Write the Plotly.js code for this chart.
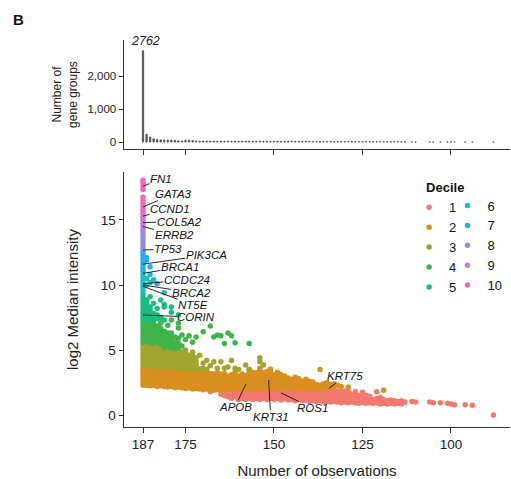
<!DOCTYPE html>
<html><head><meta charset="utf-8">
<script src="https://cdn.plot.ly/plotly-3.0.1.min.js"></script>
<style>html,body{margin:0;padding:0;background:#fff}#chart{width:511px;height:479px}</style>
</head><body><div id="chart"></div>
<script>
// ---------- data ----------
const decileNames = ['1','2','3','4','5','6','7','8','9','10'];
const decileColors = ['#F3786E','#D88F1E','#A2A42E','#40B44A','#1CBB82','#1DBDC3','#2AACE6','#9690DA','#CC78D2','#F068B6'];

// Top panel: number of gene groups per number of observations
const countX = [187,186,185,184,183,182,181,180,179,178,177,176,175,174,173,172,171,170,169,168,167,166,165,164,163,162,161,160,159,158,157,156,155,154,153,152,151,150,149,148,147,146,145,144,143,142,141,140,139,138,137,136,135,134,133,132,131,130,129,128,127,126,125,124,123,122,121,120,119,118,117,116,115,114,113,111,110,106,105,103,101,100,99,96,94,88];
const countY = [2762,230,150,100,80,65,60,55,52,48,35,32,50,52,48,30,28,30,28,27,29,26,28,25,27,24,26,25,23,25,24,22,24,23,22,24,21,23,22,20,22,21,19,21,20,18,20,19,17,18,17,16,17,15,16,14,15,14,13,14,12,13,12,11,12,10,11,10,9,10,8,9,8,7,6,3,2,2,1,1,2,1,1,1,1,1];

// Bottom panel: log2 median intensity, columns of points per number of observations, by decile
const d1_x = [168,165,164,163,162,161,160,159,158,157,156,155,154,153,152,151,150,149,148,147,146,145,144,143,142,141,140,139,138,137,136,135,134,133,132,131,130,129,128,127,126,125,124,123,122,121,120,119,118,117,116,115,114,113,111,110,106,105,103,101,100,99,96,94,88];
const d1_y = [[1.8],[1.6],[1.5,1.8],[1.4,1.7],[1.3,1.6,1.9],[1.4,1.7],[1.2,1.5,1.8],[1.3,1.6,1.9],[1.2,1.5,1.8],[1.3,1.6,1.9],[1.2,1.5,1.8],[1.3,1.6,1.9],[1.2,1.5,1.8],[1.3,1.6,1.9],[1.2,1.5,1.8,2.0],[1.3,1.6,1.9],[1.2,1.5,1.8,2.1],[1.3,1.6,1.9],[1.15,1.45,1.7,2.0],[1.25,1.55,1.85,2.1],[1.15,1.45,1.75,2.0],[1.2,1.5,1.8,2.1],[1.1,1.4,1.7,2.0],[1.2,1.5,1.8,2.05],[1.1,1.4,1.7,2.0],[1.15,1.45,1.75,1.95],[1.05,1.35,1.65,1.95],[1.1,1.4,1.7,2.0],[1.05,1.35,1.65,1.9],[1.1,1.4,1.7,1.95],[1.0,1.3,1.6,1.9],[1.05,1.35,1.65,1.9],[1.0,1.3,1.6,1.85],[1.05,1.35,1.65,1.9],[1.0,1.3,1.6,1.85],[0.95,1.25,1.55,1.8],[1.0,1.3,1.6,1.85],[0.95,1.25,1.55,1.8],[1.0,1.3,1.6],[0.95,1.25,1.55,1.8],[0.9,1.2,1.5],[0.95,1.25,1.55,1.75],[0.9,1.2,1.5],[0.95,1.25,1.45],[0.9,1.2],[0.95,1.25,1.8],[0.85,1.15,1.35],[0.9,1.2],[0.85,1.1],[0.9,1.15],[0.85,1.1],[0.9,1.05],[0.85,1.1],[1.0],[1.05],[1.0],[1.0],[0.95],[0.95],[0.9],[0.85],[0.8],[0.8],[0.75],[0.0]];

const d2_x = [187,186,185,184,183,182,181,180,179,178,177,176,175,174,173,172,171,170,169,168,167,166,165,164,163,162,161,160,159,158,157,156,155,154,153,152,151,150,149,148,147,146,145,144,143,142,141,140,139,138,137,136,135,134,133,132,131,129,119];
const d2_y = [[2.3,2.55,2.8,3.05,3.3,3.55],[2.3,2.55,2.8,3.05,3.3,3.5],[2.25,2.5,2.75,3.0,3.25,3.5],[2.3,2.55,2.8,3.05,3.3,3.55],[2.2,2.45,2.7,2.95,3.2,3.45],[2.25,2.5,2.75,3.0,3.25,3.5],[2.2,2.45,2.7,2.95,3.2,3.45],[2.15,2.4,2.65,2.9,3.15,3.4],[2.2,2.45,2.7,2.95,3.2,3.45],[2.1,2.35,2.6,2.85,3.1,3.35],[2.15,2.4,2.65,2.9,3.15,3.4],[2.1,2.35,2.6,2.85,3.1,3.35],[2.05,2.3,2.55,2.8,3.05,3.3],[2.1,2.35,2.6,2.85,3.1,3.35],[2.0,2.25,2.5,2.75,3.0,3.25],[2.05,2.3,2.55,2.8,3.05,3.3],[2.0,2.25,2.5,2.75,3.0,3.25],[1.95,2.2,2.45,2.7,2.95,3.2],[2.0,2.25,2.5,2.75,3.0,3.25],[1.95,2.2,2.45,2.7,2.95,3.2],[1.9,2.15,2.4,2.65,2.9,3.15],[1.95,2.2,2.45,2.7,2.95,3.25],[1.9,2.15,2.4,2.65,2.9,3.15],[1.95,2.2,2.45,2.7,2.95,3.2],[2.0,2.25,2.5,2.75,3.0],[2.1,2.35,2.6,2.85,3.1],[2.05,2.3,2.55,2.8,3.05,3.3],[2.0,2.25,2.5,2.75,3.0],[2.15,2.4,2.65,2.9,3.15],[2.05,2.3,2.55,2.8,3.05],[2.0,2.25,2.5,2.75,3.0,3.25,3.5],[2.05,2.3,2.55,2.8,3.05,3.3],[2.0,2.25,2.5,2.75,3.0,3.25],[2.1,2.35,2.6,2.85,3.1,3.35,3.6],[2.0,2.25,2.5,2.75,3.0,3.25],[2.1,2.35,2.6,2.85,3.1,3.35],[2.05,2.3,2.55,2.8,3.05,3.3,3.55],[2.1,2.35,2.6,2.85,3.1],[2.0,2.25,2.5,2.75,3.0,3.3],[2.1,2.35,2.6,2.85,3.1],[2.05,2.3,2.55,2.8,3.0],[2.1,2.35,2.6,2.85],[2.0,2.25,2.5,2.75],[2.1,2.35,2.6,2.9],[2.05,2.3,2.55,2.8],[2.1,2.35,2.6],[2.0,2.25,2.5,2.75],[2.1,2.35,2.6],[2.05,2.3,2.55],[2.1,2.35],[2.0,2.3,3.5],[2.1,2.4],[2.2,2.5],[2.1,2.35],[2.2,2.4],[2.3],[2.2],[2.15],[1.9]];

const d3_x = [187,186,185,184,183,182,181,180,179,178,177,176,175,174,173,172,171,170,169,168,167,166,165,164,163,162,161,160,158,157,154,153];
const d3_y = [[3.8,4.05,4.3,4.55,4.8,5.05,5.3],[3.75,4.0,4.25,4.5,4.75,5.0,5.25,5.45],[3.8,4.05,4.3,4.55,4.8,5.05,5.3],[3.75,4.0,4.25,4.5,4.75,5.0,5.25],[3.7,3.95,4.2,4.45,4.7,4.95,5.2,5.4],[3.75,4.0,4.25,4.5,4.75,5.0,5.2],[3.7,3.95,4.2,4.45,4.7,4.95],[3.65,3.9,4.15,4.4,4.65,4.9,5.1],[3.7,3.95,4.2,4.45,4.7,4.95],[3.6,3.85,4.1,4.35,4.6,4.85,5.0],[3.65,3.9,4.15,4.4,4.65,4.9],[3.6,3.85,4.1,4.35,4.6,4.85],[3.55,3.8,4.05,4.3,4.55,4.8,5.0],[3.6,3.85,4.1,4.35,4.6],[3.55,3.8,4.05,4.3,4.55,4.85],[3.6,3.85,4.1,4.4],[3.55,4.6],[3.6,4.0],[3.5,4.2],[3.8],[4.1],[3.6],[4.1],[3.6],[3.7],[4.2],[3.6],[3.5],[3.85],[3.5],[4.1,4.4],[3.85]];

const d4_x = [187,186,185,184,183,182,181,180,179,178,177,176,175,174,173,172,170,168,167,166,165,164,163,162,161,157];
const d4_y = [[5.55,5.8,6.05,6.3,6.55,6.8,7.05],[5.7,5.95,6.2,6.45,6.7,6.95,7.15],[5.55,5.8,6.05,6.3,6.55,6.8,7.05],[5.5,5.75,6.0,6.25,6.5,6.75,7.0],[5.6,5.85,6.1,6.35,6.6,6.85],[5.45,5.7,5.95,6.2,6.45,6.7,7.1],[5.2,5.45,5.7,5.95,6.2,6.45],[5.3,5.55,5.8,6.05,6.3,6.9],[5.2,5.45,5.7,5.95,6.3,7.3],[5.1,5.35,5.6,6.0],[5.2,5.5,5.9,6.7,7.05],[5.3,6.15],[5.8],[6.1],[5.6],[6.0],[6.4],[6.85],[6.0],[6.15],[6.1],[5.5],[6.3],[6.1],[5.55],[5.5]];

const d5_x = [187,186,185,184,183,182,181,179,177];
const d5_y = [[7.3,7.55,7.8,8.05,8.3,8.55,8.8,9.05,9.3],[7.35,7.6,7.85,8.1,8.35,8.6,8.85],[7.3,7.55,7.8,8.05,8.3,9.1],[7.3,7.55,7.8,8.6],[7.4,7.7,8.2],[7.5,8.85],[7.3,8.3,8.5],[7.9,8.3],[7.7]];

const d6_x = [187,186,185,184,183,181];
const d6_y = [[9.55,9.8,10.05,10.3,10.55,10.8],[10.0,10.5],[10.2,10.8],[10.4],[10.1],[9.4]];

const d7_x = [187,186,185];
const d7_y = [[11.05,11.3,11.55,11.8,12.05,12.3,12.55],[11.9,12.1],[11.4]];

const d8_x = [187];
const d8_y = [[12.8,13.05,13.3,13.55,13.8,14.05,14.25]];

const d9_x = [187];
const d9_y = [[14.5,14.75,15.0,15.25,15.5]];

const d10_x = [187];
const d10_y = [[15.75,16.0,16.25,16.5,16.75,17.35,17.6,17.85,18.05]];

// Labelled genes
const geneNames = ['FN1','GATA3','CCND1','COL5A2','ERRB2','TP53','PIK3CA','BRCA1','CCDC24','BRCA2','NT5E','CORIN','KRT75','APOB','KRT31','ROS1'];
const geneX = [187,187,187,187,187,187,187,187,187,187,187,187,134.5,157.9,151.5,148];
const geneY = [17.6,16.0,15.3,14.8,14.5,12.7,11.6,10.9,10.1,10.0,9.9,7.7,2.05,2.4,2.7,1.7];

const xTicks = [187,175,150,125,100];
const yTicks = [0,5,10,15];
const countTicks = [0,1000,2000];

// ---------- layout-only offsets for labels (pixels) ----------
const labelOffsets = [[18,-7],[30,-13],[27,-7],[36,-1],[31,8.5],[25,-0.5],[63,-9],[37,-6],[44,-3.7],[48,7.5],[50,18.7],[53,2.3],[16,-12],[-11,23],[2,37],[31,15]];

const columns = [[d1_x,d1_y],[d2_x,d2_y],[d3_x,d3_y],[d4_x,d4_y],[d5_x,d5_y],[d6_x,d6_y],[d7_x,d7_y],[d8_x,d8_y],[d9_x,d9_y],[d10_x,d10_y]];

const FONT = 'Liberation Sans, Arial, Helvetica, sans-serif';
const AX = '#333333';

const traces = [];
traces.push({
  type:'bar', x:countX, y:countY, xaxis:'x2', yaxis:'y2', width:0.35,
  marker:{color:'#555555', line:{color:'#555555', width:1}},
  showlegend:false, hoverinfo:'x+y'
});
columns.forEach(function(c, i){
  const xs = [], ys = [];
  c[0].forEach(function(xv, j){ c[1][j].forEach(function(yv){ xs.push(xv); ys.push(yv); }); });
  traces.push({
    type:'scatter', mode:'markers', x:xs, y:ys, xaxis:'x', yaxis:'y',
    name:decileNames[i], legend: i < 5 ? 'legend' : 'legend2', legendrank: i+1,
    marker:{color:decileColors[i], size:5.5, line:{width:0}},
    hoverinfo:'x+y+name'
  });
});

const annotations = [];
annotations.push({text:'<b>B</b>', xref:'paper', yref:'paper', x:-0.292, y:1.052, xanchor:'left', yanchor:'middle', showarrow:false, font:{family:FONT, size:15, color:'#111'}});
annotations.push({text:String(countY[0]), xref:'x2', yref:'y2', x:countX[0], y:countY[0], xanchor:'center', yanchor:'bottom', xshift:2, yshift:1, showarrow:false, font:{family:FONT, size:12.5, color:'#222', style:'italic'}});
geneNames.forEach(function(g, i){
  annotations.push({
    text:g, xref:'x', yref:'y', x:geneX[i], y:geneY[i], ax:labelOffsets[i][0], ay:labelOffsets[i][1],
    showarrow:true, arrowhead:0, arrowwidth:0.9, arrowcolor:'#111', standoff:0, borderpad:0,
    font:{family:FONT, size:11.5, color:'#111', style:'italic'}
  });
});

const tickCommon = {ticks:'outside', ticklen:4.5, tickwidth:1, tickcolor:AX, showline:true, linecolor:AX, linewidth:1, showgrid:false, zeroline:false};

const layout = {
  width:511, height:479,
  margin:{l:124, r:1, t:40, b:52},
  paper_bgcolor:'#fff', plot_bgcolor:'#fff',
  font:{family:FONT, color:'#222'},
  showlegend:true,
  xaxis: Object.assign({}, tickCommon, {domain:[0,1], anchor:'y', range:[192.37,83.33], tickvals:xTicks, tickfont:{size:13.5, color:'#222'},
    title:{text:'Number of observations', font:{size:15, color:'#222'}, standoff:14}}),
  yaxis: Object.assign({}, tickCommon, {domain:[0,0.6589], anchor:'x', range:[-0.92,18.69], tickvals:yTicks, tickfont:{size:13.5, color:'#222'},
    title:{text:'log2 Median intensity', font:{size:15, color:'#222'}, standoff:18}}),
  xaxis2: Object.assign({}, tickCommon, {domain:[0,1], anchor:'y2', range:[192.37,83.33], tickvals:xTicks, showticklabels:false}),
  yaxis2: Object.assign({}, tickCommon, {domain:[0.7183,1], anchor:'x2', range:[-212,3091], tickvals:countTicks, tickformat:',', tickfont:{size:11.5, color:'#222'},
    title:{text:'Number of<br>gene groups', font:{size:12, color:'#222'}, standoff:7}}),
  legend:{title:{text:'<b>Decile</b>', font:{size:13, color:'#111'}, side:'top'}, x:0.7775, xanchor:'left', y:0.650, yanchor:'top',
    bgcolor:'rgba(0,0,0,0)', font:{size:13, color:'#111'}, indentation:-15, tracegroupgap:0, itemclick:false},
  legend2:{x:0.838, xanchor:'left', y:0.611, yanchor:'top', bgcolor:'rgba(0,0,0,0)', font:{size:13, color:'#111'}, tracegroupgap:0, itemclick:false},
  annotations:annotations
};

Plotly.newPlot('chart', traces, layout, {displayModeBar:false, staticPlot:true});
</script>
</body></html>
